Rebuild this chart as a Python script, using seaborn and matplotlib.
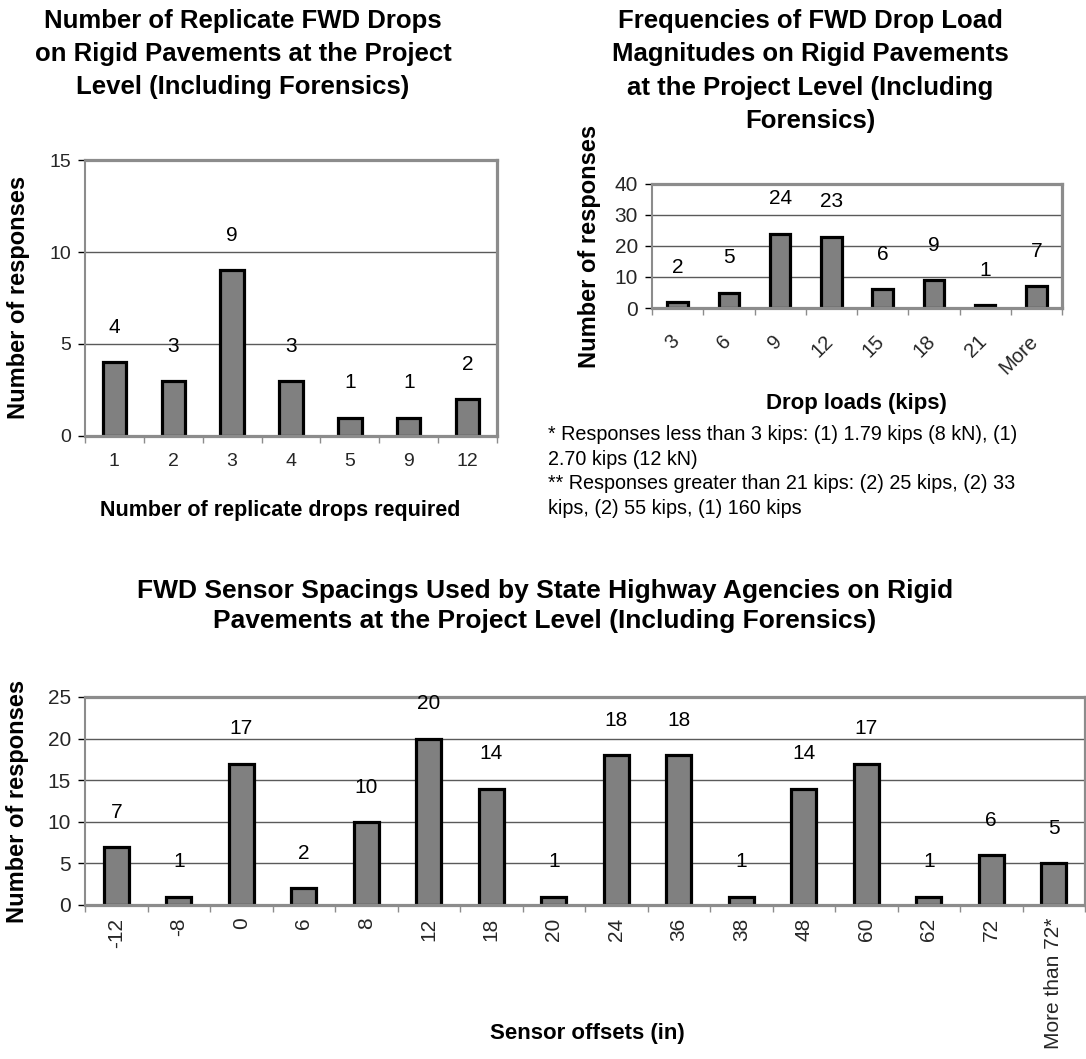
import numpy as np
import pandas as pd
import matplotlib
matplotlib.use("Agg")
import matplotlib.pyplot as plt
import matplotlib.transforms as mtransforms
import seaborn as sns

# ---------------- data ----------------
drops_cats = ["1", "2", "3", "4", "5", "9", "12"]
drops_vals = [4, 3, 9, 3, 1, 1, 2]

load_cats = ["3", "6", "9", "12", "15", "18", "21", "More"]
load_vals = [2, 5, 24, 23, 6, 9, 1, 7]

sensor_cats = ["-12", "-8", "0", "6", "8", "12", "18", "20", "24", "36",
               "38", "48", "60", "62", "72", "More than 72*"]
sensor_vals = [7, 1, 17, 2, 10, 20, 14, 1, 18, 18, 1, 14, 17, 1, 6, 5]

title1 = "Number of Replicate FWD Drops\non Rigid Pavements at the Project\nLevel (Including Forensics)"
title2 = "Frequencies of FWD Drop Load\nMagnitudes on Rigid Pavements\nat the Project Level (Including\nForensics)"
title3 = "FWD Sensor Spacings Used by State Highway Agencies on Rigid\nPavements at the Project Level (Including Forensics)"
footnote = ("* Responses less than 3 kips: (1) 1.79 kips (8 kN), (1)\n"
            "2.70 kips (12 kN)\n"
            "** Responses greater than 21 kips: (2) 25 kips, (2) 33\n"
            "kips, (2) 55 kips, (1) 160 kips")

# ---------------- style ----------------
sns.set_theme(style="white")
plt.rcParams["font.family"] = ["Liberation Sans", "DejaVu Sans"]

W, H = 1086, 1059
fig = plt.figure(figsize=(W / 100, H / 100), dpi=100)


def rect(left, right, top, bottom):
    return [left / W, 1 - bottom / H, (right - left) / W, (bottom - top) / H]


FRAME = "#8c8c8c"
GRID = "#5a5a5a"


def draw(ax, cats, vals, ymax, ystep, ytick_fs, xtick_fs, val_fs, rot=0, pad=10):
    df = pd.DataFrame({"cat": cats, "val": vals})
    sns.barplot(data=df, x="cat", y="val", ax=ax, color="#808080",
                edgecolor="black", linewidth=2.3, width=0.4, saturation=1)
    n = len(cats)
    ax.set_xlim(-0.5, n - 0.5)
    ax.set_ylim(0, ymax)
    ax.set_yticks(np.arange(0, ymax + 1, ystep))
    ax.tick_params(axis="y", labelsize=ytick_fs, length=5, width=1, color="black",
                   direction="out", pad=5, left=True)
    ax.set_xticks(np.arange(-0.5, n, 1), minor=True)
    ax.tick_params(axis="x", which="minor", length=5, width=1, color=FRAME,
                   direction="out", bottom=True)
    ax.tick_params(axis="x", which="major", length=0, labelsize=xtick_fs, pad=pad)
    for lab in ax.get_xticklabels():
        lab.set_rotation(rot)
    for y in np.arange(ystep, ymax, ystep):
        ax.axhline(y, color=GRID, lw=1, zorder=0)
    for s in ax.spines.values():
        s.set_visible(True)
        s.set_color(FRAME)
        s.set_linewidth(2.3)
    ax.spines["left"].set_linewidth(1.5)
    ax.set_xlabel("")
    ax.set_ylabel("")
    ax.set_facecolor("white")
    for i, v in enumerate(vals):
        ax.annotate(str(v), (i, v), xytext=(0, 25), textcoords="offset points",
                    ha="center", va="center", fontsize=val_fs, color="black")


ax1 = fig.add_axes(rect(85, 497, 160, 436))
draw(ax1, drops_cats, drops_vals, 15, 5, ytick_fs=14, xtick_fs=14, val_fs=15, pad=12)

ax2 = fig.add_axes(rect(652, 1062, 184, 308))
draw(ax2, load_cats, load_vals, 40, 10, ytick_fs=15, xtick_fs=14.5, val_fs=15, rot=45, pad=17)
off = mtransforms.ScaledTranslation(-8 / 100, 0, fig.dpi_scale_trans)
for lab in ax2.get_xticklabels():
    lab.set_ha("right")
    lab.set_va("top")
    lab.set_rotation_mode("anchor")
    lab.set_transform(lab.get_transform() + off)

ax3 = fig.add_axes(rect(85, 1085, 697, 905))
draw(ax3, sensor_cats, sensor_vals, 25, 5, ytick_fs=15, xtick_fs=15, val_fs=15, rot=90, pad=9)
for lab in ax3.get_xticklabels():
    lab.set_va("top")
    lab.set_ha("center")


def ftext(x, y, s, **kw):
    fig.text(x / W, 1 - y / H, s, **kw)


bold = dict(fontweight="bold", color="black")
ftext(243, 54, title1, ha="center", va="center", fontsize=18.5, linespacing=1.48, **bold)
ftext(810, 71, title2, ha="center", va="center", fontsize=18.5, linespacing=1.48, **bold)
ftext(545, 606, title3, ha="center", va="center", fontsize=19, linespacing=1.35, **bold)

ftext(19, 297, "Number of responses", rotation=90, ha="center", va="center", fontsize=17, **bold)
ftext(590, 246, "Number of responses", rotation=90, ha="center", va="center", fontsize=17, **bold)
ftext(18, 801, "Number of responses", rotation=90, ha="center", va="center", fontsize=17, **bold)

ftext(280, 510, "Number of replicate drops required", ha="center", va="center", fontsize=15.5, **bold)
ftext(856, 403, "Drop loads (kips)", ha="center", va="center", fontsize=16, **bold)
ftext(587, 1033, "Sensor offsets (in)", ha="center", va="center", fontsize=16, **bold)

ftext(548, 425, footnote, ha="left", va="top", fontsize=14.2, linespacing=1.38, color="black")

fig.savefig("out.png", dpi=100, facecolor="white")
